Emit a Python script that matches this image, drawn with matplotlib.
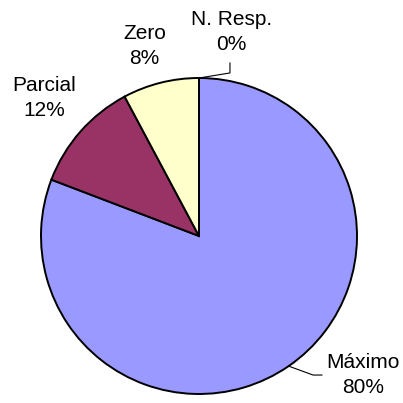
import numpy as np
import matplotlib
matplotlib.use("Agg")
import matplotlib.pyplot as plt

# data
categories = ["Máximo", "Parcial", "Zero", "N. Resp."]
shares = [80.8, 11.4, 7.8, 0.0]
pct_labels = [80, 12, 8, 0]
colors = ["#9999FF", "#993366", "#FFFFCC", "#FFFFFF"]

plt.rcParams['font.family'] = ['Liberation Sans', 'DejaVu Sans']

fig = plt.figure(figsize=(4.03, 4.03), dpi=100)
ax = fig.add_axes([41/403, 9/403, 316/403, 316/403])

wedges, _ = ax.pie(shares, colors=colors, startangle=90, counterclock=False,
                   radius=1, wedgeprops=dict(edgecolor="black", linewidth=1.4))
ax.set_xlim(-1, 1)
ax.set_ylim(-1, 1)
ax.set_aspect("equal")
ax.axis("off")

# label positions (data coords, radius = 1)
label_pos = [(1.04, -0.88), (-0.98, 0.875), (-0.345, 1.205), (0.203, 1.29)]
for name, p, pos in zip(categories, pct_labels, label_pos):
    ax.text(pos[0], pos[1], f"{name}\n{p}%", ha="center", va="center",
            fontsize=15, linespacing=1.4)

# leader lines for Máximo and N. Resp.
def edge(w):
    a = np.deg2rad((w.theta1 + w.theta2) / 2)
    return np.cos(a), np.sin(a)

x0, y0 = edge(wedges[0])
ax.plot([x0, 0.722, 0.778], [y0, -0.88, -0.88], color="black", lw=0.8, clip_on=False)
x0, y0 = edge(wedges[3])
ax.plot([x0, 0.196, 0.196], [y0, 1.032, 1.095], color="black", lw=0.8, clip_on=False)

fig.savefig("out.png", dpi=100)
